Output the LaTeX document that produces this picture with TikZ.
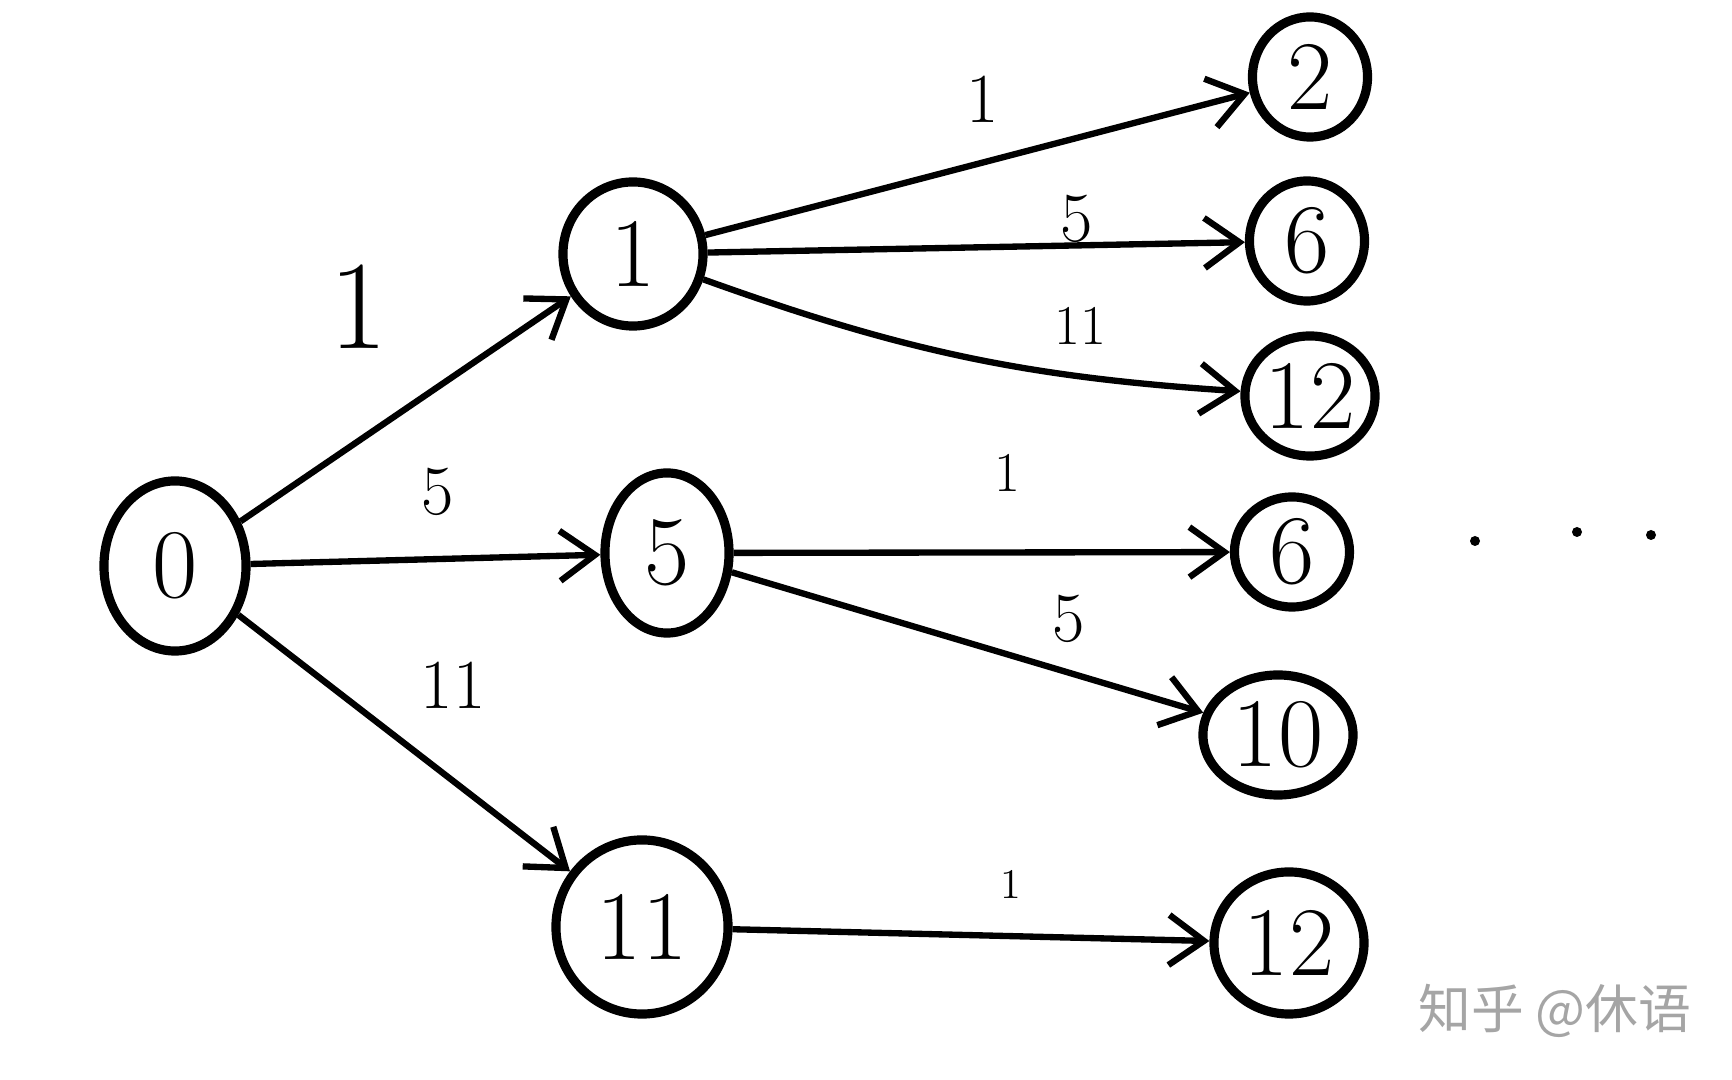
\documentclass[tikz,border=0pt]{standalone}
\usepackage{fontspec}
\newfontfamily\cjkfont{Noto Sans CJK SC}
\usetikzlibrary{arrows.meta}
\usetikzlibrary{shapes.geometric}

\definecolor{markgray}{RGB}{165,165,165}

\tikzset{
    vtx/.style={draw,black,ellipse,line width=2.6pt,inner sep=0pt,
        minimum width=1.15cm,minimum height=1.2cm,
        font=\fontsize{28}{28}\selectfont},
    wt/.style={font=\fontsize{20}{20}\selectfont},
    arc/.style={black,line width=1.8pt,
        -{Straight Barb[length=3.5mm,width=5mm,line width=1.8pt]}}
}

\begin{document}
\begin{tikzpicture}[x=0.01cm,y=-0.01cm]
        \useasboundingbox (0,0) rectangle (1732,1080);

        % first level
        \node[vtx,minimum width=1.42cm,minimum height=1.7cm] (v0) at (175,566) {0};
        \node[vtx,minimum width=1.4cm,minimum height=1.44cm] (v1) at (633,254) {1};
        \node[vtx,minimum width=1.24cm,minimum height=1.6cm] (v5) at (667,553) {5};
        \node[vtx,minimum width=1.72cm,minimum height=1.74cm] (v11) at (642,927) {11};

        % second level
        \node[vtx] (v2) at (1310,77) {2};
        \node[vtx] (v6a) at (1307,241) {6};
        \node[vtx,minimum width=1.3cm] (v12a) at (1310,396) {12};
        \node[vtx,minimum height=1.1cm] (v6b) at (1292,552) {6};
        \node[vtx,minimum width=1.5cm] (v10) at (1278,735) {10};
        \node[vtx,minimum width=1.5cm,minimum height=1.42cm] (v12b) at (1289,943) {12};

        \draw[arc] (v0) -- (v1);
        \draw[arc] (v0) -- (v5);
        \draw[arc] (v0) -- (v11);
        \draw[arc] (v1) -- (v2);
        \draw[arc] (v1) -- (v6a);
        \draw[arc] (v1) to[bend right=8] (v12a);
        \draw[arc] (v5) -- (v6b);
        \draw[arc] (v5) -- (v10);
        \draw[arc] (v11) -- (v12b);

        % weights
        \node[wt,font=\fontsize{36}{36}\selectfont] (w01) at (359,307) {1};
        \node[wt] (w05) at (438,492) {5};
        \node[wt] (w011) at (453,685) {11};
        \node[wt] (w12) at (983,99) {1};
        \node[wt] (w16) at (1077,219) {5};
        \node[wt,font=\fontsize{16}{16}\selectfont] (w112) at (1080,326) {11};
        \node[wt,font=\fontsize{16}{16}\selectfont] (w56) at (1007,473) {1};
        \node[wt] (w510) at (1069,619) {5};
        \node[wt,font=\fontsize{12}{12}\selectfont] (w1112) at (1011,884) {1};

        \foreach \x/\y in {1475/541,1577/532,1651/535}
            \fill[black] (\x,\y) circle (5);

        \node[markgray,font=\cjkfont\fontsize{15}{15}\selectfont] (mark) at (1555,1011) {知乎 @休语};
    \end{tikzpicture}
\end{document}
